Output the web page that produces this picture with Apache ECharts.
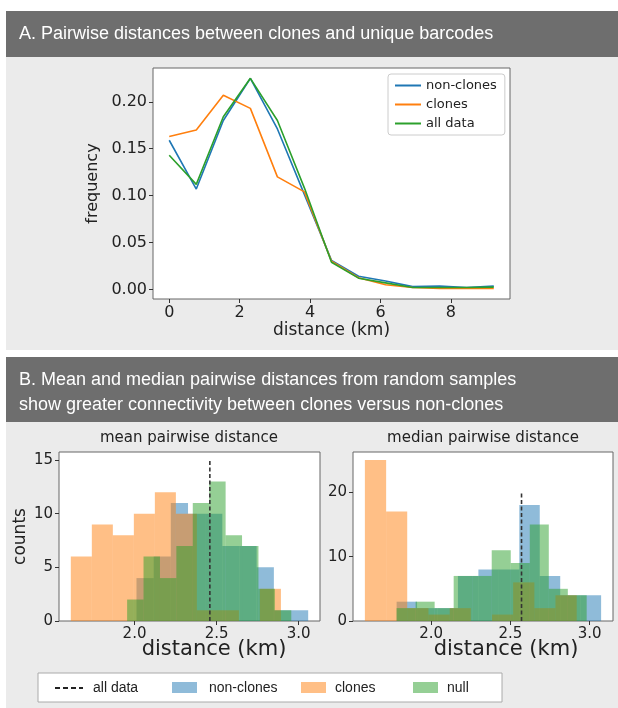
<!DOCTYPE html>
<html>
<head>
<meta charset="utf-8">
<script src="https://cdn.jsdelivr.net/npm/echarts@6/dist/echarts.min.js"></script>
<style>
html,body{margin:0;padding:0;background:#fff;}
#chart{width:618px;height:708px;}
</style>
</head>
<body>
<div id="chart"></div>
<script>
/* A. frequency of pairwise distances */
const distKm = [0, 0.768, 1.536, 2.304, 3.072, 3.84, 4.608, 5.376, 6.144, 6.912, 7.68, 8.448, 9.216];
const freqNonClones = [0.159, 0.107, 0.180, 0.225, 0.171, 0.101, 0.031, 0.014, 0.009, 0.003, 0.0035, 0.002, 0.0035];
const freqClones = [0.163, 0.170, 0.207, 0.193, 0.120, 0.104, 0.030, 0.0125, 0.005, 0.002, 0.001, 0.001, 0.001];
const freqAllData = [0.143, 0.112, 0.184, 0.225, 0.180, 0.108, 0.029, 0.012, 0.007, 0.002, 0.002, 0.002, 0.0025];
const distTicks = [0, 2, 4, 6, 8];
const freqTicks = [0, 0.05, 0.10, 0.15, 0.20];

/* B. histograms of mean / median pairwise distance (bin edges in km) */
const meanEdgesNonClones = [2.012, 2.117, 2.221, 2.326, 2.430, 2.535, 2.640, 2.744, 2.849, 2.953, 3.058];
const meanCountsNonClones = [4, 6, 11, 10, 10, 7, 7, 5, 1, 1];
const meanEdgesClones = [1.612, 1.740, 1.868, 1.996, 2.124, 2.252, 2.380, 2.508, 2.636, 2.764, 2.892];
const meanCountsClones = [6, 9, 8, 10, 12, 10, 1, 1, 0, 3];
const meanEdgesNull = [1.955, 2.055, 2.155, 2.255, 2.355, 2.455, 2.555, 2.655, 2.755, 2.855, 2.955];
const meanCountsNull = [2, 6, 4, 7, 11, 13, 8, 7, 3, 1];
const meanAllData = 2.459;

const medianEdgesNonClones = [1.782, 1.911, 2.040, 2.169, 2.298, 2.427, 2.556, 2.685, 2.814, 2.943, 3.072];
const medianCountsNonClones = [3, 2, 2, 7, 8, 8, 18, 7, 4, 4];
const medianEdgesClones = [1.582, 1.716, 1.849, 1.983, 2.117, 2.250, 2.384, 2.517, 2.651, 2.784, 2.918];
const medianCountsClones = [25, 17, 2, 1, 2, 0, 1, 6, 2, 4];
const medianEdgesNull = [1.782, 1.902, 2.022, 2.142, 2.262, 2.382, 2.502, 2.622, 2.742, 2.862, 2.981];
const medianCountsNull = [2, 3, 2, 7, 7, 11, 9, 15, 5, 4];
const medianAllData = 2.570;

const histTicks = [2.0, 2.5, 3.0];
const meanCountTicks = [0, 5, 10, 15];
const medianCountTicks = [0, 10, 20];

const C_BLUE = "#1f77b4", C_ORANGE = "#ff7f0e", C_GREEN = "#2ca02c";
const H_BLUE = "rgba(31,119,180,0.5)", H_ORANGE = "rgba(255,127,14,0.5)", H_GREEN = "rgba(44,160,44,0.5)";
const FONT = "DejaVu Sans";
const TXT = "#222";

const chart = echarts.init(document.getElementById("chart"));

function pairs(xs, ys){
	return xs.map((x, i) => [x, ys[i]]);
}

function hist(name, edges, counts, color, idx){
	return {
		type: "custom",
		name,
		xAxisIndex: idx,
		yAxisIndex: idx,
		clip: true,
		encode: {x: [0, 1], y: 2},
		data: counts.map((c, i) => [edges[i], edges[i + 1], c]),
		renderItem(params, api){
			const c = api.value(2);
			if(!c) return null;
			const p0 = api.coord([api.value(0), c]);
			const p1 = api.coord([api.value(1), 0]);
			return {
				type: "rect",
				shape: {x: p0[0], y: p0[1], width: p1[0] - p0[0], height: p1[1] - p0[1]},
				style: {fill: color}
			};
		}
	};
}

function vline(x, top, idx){
	return {
		type: "line",
		xAxisIndex: idx,
		yAxisIndex: idx,
		data: [[x, 0], [x, top]],
		symbol: "none",
		silent: true,
		lineStyle: {color: "#333", width: 1.6, type: [4, 2.5]},
		z: 5
	};
}

function valAxis(idx, min, max, ticks, fmt, size, extra){
	return Object.assign({
		type: "value",
		gridIndex: idx,
		min, max,
		splitLine: {show: false},
		axisLine: {show: false, onZero: false},
		axisTick: {show: true, length: 4, customValues: ticks, lineStyle: {color: "#333"}},
		axisLabel: {customValues: ticks, formatter: fmt, color: TXT, fontFamily: FONT, fontSize: size, margin: 6}
	}, extra || {});
}

function label(text, x, y, size, extra){
	return {type: "text", x, y, style: Object.assign({text, fill: TXT, font: size + "px '" + FONT + "'", textAlign: "center", textVerticalAlign: "middle"}, extra || {})};
}

const gridStyle = {show: true, backgroundColor: "#fff", borderColor: "#666", borderWidth: 1};
const headFont = "18px 'Liberation Sans'";
const legFont = "14px 'Liberation Sans'";

const option = {
	animation: false,
	backgroundColor: "#fff",
	graphic: [
		{type: "rect", shape: {x: 6, y: 11, width: 612, height: 46}, style: {fill: "#6e6e6e"}, z: -10},
		{type: "rect", shape: {x: 6, y: 57, width: 612, height: 293}, style: {fill: "#ebebeb"}, z: -10},
		{type: "rect", shape: {x: 6, y: 357, width: 612, height: 65}, style: {fill: "#6e6e6e"}, z: -10},
		{type: "rect", shape: {x: 6, y: 422, width: 612, height: 286}, style: {fill: "#ebebeb"}, z: -10},
		{type: "text", x: 19, y: 34, style: {text: "A. Pairwise distances between clones and unique barcodes", fill: "#fff", font: headFont, textVerticalAlign: "middle"}},
		{type: "text", x: 19, y: 380, style: {text: "B. Mean and median pairwise distances from random samples", fill: "#fff", font: headFont, textVerticalAlign: "middle"}},
		{type: "text", x: 19, y: 405, style: {text: "show greater connectivity between clones versus non-clones", fill: "#fff", font: headFont, textVerticalAlign: "middle"}},
		label("mean pairwise distance", 189, 438, 15),
		label("median pairwise distance", 483, 438, 15),
		label("distance (km)", 214, 650, 21),
		label("distance (km)", 506, 650, 21),
		// bottom legend
		{type: "rect", shape: {x: 38, y: 673, width: 464, height: 29}, style: {fill: "#fff", stroke: "#aaa", lineWidth: 1}},
		{type: "line", shape: {x1: 55, y1: 688, x2: 83, y2: 688}, style: {stroke: "#222", lineWidth: 2, lineDash: [5, 3]}},
		{type: "text", x: 93, y: 688, style: {text: "all data", fill: TXT, font: legFont, textVerticalAlign: "middle"}},
		{type: "rect", shape: {x: 172, y: 682, width: 25, height: 11}, style: {fill: H_BLUE}},
		{type: "text", x: 209, y: 688, style: {text: "non-clones", fill: TXT, font: legFont, textVerticalAlign: "middle"}},
		{type: "rect", shape: {x: 301, y: 682, width: 25, height: 11}, style: {fill: H_ORANGE}},
		{type: "text", x: 335, y: 688, style: {text: "clones", fill: TXT, font: legFont, textVerticalAlign: "middle"}},
		{type: "rect", shape: {x: 413, y: 682, width: 25, height: 11}, style: {fill: H_GREEN}},
		{type: "text", x: 447, y: 688, style: {text: "null", fill: TXT, font: legFont, textVerticalAlign: "middle"}}
	],
	legend: {
		data: ["non-clones", "clones", "all data"],
		orient: "vertical",
		left: 388,
		top: 74,
		width: 115,
		padding: [5, 8, 5, 6],
		itemWidth: 26,
		itemHeight: 14,
		itemGap: 6,
		itemStyle: {opacity: 0},
		backgroundColor: "#fff",
		borderColor: "#ccc",
		borderWidth: 1,
		borderRadius: 3,
		textStyle: {color: TXT, fontFamily: FONT, fontSize: 13}
	},
	grid: [
		Object.assign({left: 153, top: 68, width: 357, height: 231}, gridStyle),
		Object.assign({left: 59, top: 452, width: 261, height: 169}, gridStyle),
		Object.assign({left: 353, top: 452, width: 260, height: 169}, gridStyle)
	],
	xAxis: [
		valAxis(0, -0.461, 9.677, distTicks, v => String(v), 16,
			{name: "distance (km)", nameLocation: "middle", nameGap: 20, nameTextStyle: {color: TXT, fontFamily: FONT, fontSize: 17}}),
		valAxis(1, 1.540, 3.130, histTicks, v => v.toFixed(1), 15),
		valAxis(2, 1.507, 3.147, histTicks, v => v.toFixed(1), 15)
	],
	yAxis: [
		valAxis(0, -0.0102, 0.236, freqTicks, v => v.toFixed(2), 16,
			{name: "frequency", nameLocation: "middle", nameGap: 52, nameTextStyle: {color: TXT, fontFamily: FONT, fontSize: 16}}),
		valAxis(1, 0, 15.75, meanCountTicks, v => String(v), 15,
			{name: "counts", nameLocation: "middle", nameGap: 30, nameTextStyle: {color: TXT, fontFamily: FONT, fontSize: 17}}),
		valAxis(2, 0, 26.25, medianCountTicks, v => String(v), 15)
	],
	series: [
		{type: "line", name: "non-clones", data: pairs(distKm, freqNonClones), symbol: "none", showSymbol: false,
			lineStyle: {color: C_BLUE, width: 1.6}, itemStyle: {color: C_BLUE}},
		{type: "line", name: "clones", data: pairs(distKm, freqClones), symbol: "none", showSymbol: false,
			lineStyle: {color: C_ORANGE, width: 1.6}, itemStyle: {color: C_ORANGE}},
		{type: "line", name: "all data", data: pairs(distKm, freqAllData), symbol: "none", showSymbol: false,
			lineStyle: {color: C_GREEN, width: 1.6}, itemStyle: {color: C_GREEN}},

		hist("mean non-clones", meanEdgesNonClones, meanCountsNonClones, H_BLUE, 1),
		hist("mean clones", meanEdgesClones, meanCountsClones, H_ORANGE, 1),
		hist("mean null", meanEdgesNull, meanCountsNull, H_GREEN, 1),
		vline(meanAllData, 15, 1),

		hist("median non-clones", medianEdgesNonClones, medianCountsNonClones, H_BLUE, 2),
		hist("median clones", medianEdgesClones, medianCountsClones, H_ORANGE, 2),
		hist("median null", medianEdgesNull, medianCountsNull, H_GREEN, 2),
		vline(medianAllData, 20, 2)
	]
};

chart.setOption(option);
</script>
</body>
</html>
